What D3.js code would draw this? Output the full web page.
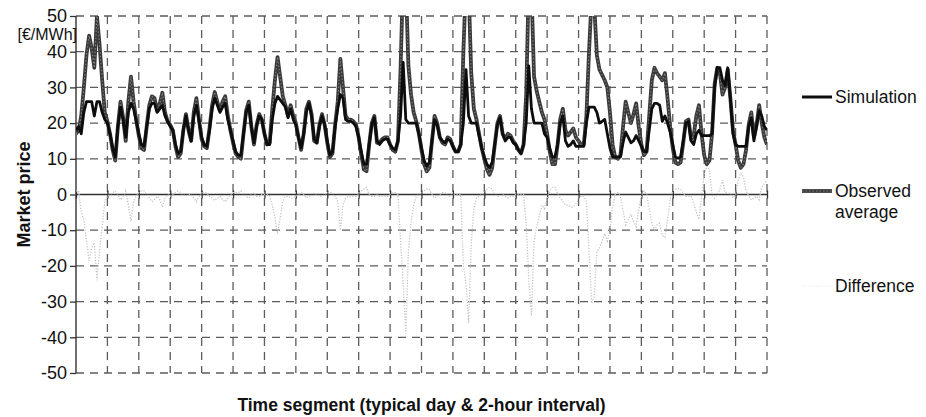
<!DOCTYPE html>
<html>
<head>
<meta charset="utf-8">
<script src="https://cdn.jsdelivr.net/npm/d3@7"></script>
<style>
  body { margin: 0; background: #fff; }
  svg text { font-family: "Liberation Sans", Arial, Helvetica, sans-serif; fill: #111; }
</style>
</head>
<body>
<svg id="chart" width="926" height="417"></svg>
<script>
// Market price per 2-hour interval (12 per typical day, 22 typical days), €/MWh
const simulation = [
  18, 19, 17, 23, 26, 26, 26, 22, 26, 26, 23, 21,
  20, 17, 13, 10.5, 19, 24.5, 21, 16, 23, 25.5, 24, 20.5,
  17, 14, 13.5, 19, 24, 25.5, 25.5, 23, 24, 25, 22, 20.5,
  19, 18, 14, 11.5, 12, 18, 22, 18, 15, 22, 25, 20.5,
  16, 14, 13.5, 18, 24, 27, 25, 23, 24.5, 25.5, 21, 18,
  15, 12, 11, 11, 17, 23, 25, 19, 14.5, 19, 22, 21,
  17, 14, 14, 21, 25.5, 27.5, 26.5, 25.5, 24.5, 21.5, 24, 21,
  19.5, 16, 13, 17, 23, 25.5, 22, 15.5, 14.5, 19, 22, 19.5,
  15, 11, 12, 19, 24, 28, 27, 21, 20.5, 20.5, 20, 19,
  16, 12, 8.5, 8.5, 14, 19.5, 21.5, 15, 14, 15, 15.5, 15.5,
  14, 13, 12.5, 15, 22, 37, 21, 20, 20, 20, 20, 17,
  13, 9.5, 8, 9, 15, 21, 19.5, 16, 15, 14.5, 15.5, 15,
  13.5, 12, 12, 14, 20, 35, 22, 20, 20, 20, 16.5, 13,
  10.5, 8.5, 7.5, 9, 14, 19.5, 21.5, 17, 15, 16, 16, 14.5,
  14, 12.5, 11.5, 14, 20, 36, 24, 20, 20, 20, 20, 17,
  16, 13, 10.5, 10.5, 14, 20, 22, 15, 13.5, 14, 15, 13.5,
  13.5, 13.5, 13.5, 20, 24.5, 24.5, 24.5, 23, 20, 20.5, 21, 17,
  13, 10.5, 10.5, 10.5, 10.5, 14.5, 17.5, 16, 14.5, 15, 16.5, 15,
  13.5, 12, 12, 18, 24, 25.5, 25.5, 25, 20.5, 22, 20, 17.5,
  14, 10.5, 10.2, 10.5, 15, 20, 20.5, 15, 14, 17, 18, 16.5,
  16.5, 16.5, 16.5, 17, 30, 35.5, 35.5, 32, 30.5, 35.5, 27, 17,
  14, 13.5, 13.5, 13.5, 13.5, 19, 21.5, 15, 19, 23.5, 22, 19,
  18
];

const observed = [
  17, 18, 22, 30, 39, 44.5, 41, 35.5, 50, 42, 32, 23,
  20.5, 17, 12.5, 9.5, 19, 26, 21.5, 15, 26, 33, 26, 21,
  16.5, 13, 12.5, 19, 25, 27.5, 27, 23.5, 25.5, 28.5, 23, 20.5,
  19.5, 18, 13.5, 10.5, 11.5, 18, 22.5, 18, 15, 23, 27, 21,
  15.5, 13.5, 13, 18.5, 25, 28.7, 26, 23.5, 26, 27.5, 22, 18,
  14.5, 11.5, 10.5, 10, 17, 23.5, 26, 19, 14, 19.5, 22.5, 21,
  17, 14, 14.5, 24, 32, 38.5, 33, 27.5, 25, 22, 25, 22,
  20, 16, 12.5, 17, 24, 26, 22.5, 15, 14.5, 19.5, 22.5, 19.5,
  14.5, 10.5, 11.5, 19.5, 26, 38, 30, 22, 21, 21, 20.5, 19.5,
  16, 11, 7, 6.5, 14, 20, 22, 14.5, 14.5, 15.5, 16, 16,
  14, 12.5, 12, 15, 35, 62, 60, 36, 28, 23, 20.5, 17,
  12.5, 8.5, 6.5, 7.5, 15, 22, 20, 16, 14.5, 14, 16, 15.5,
  13.5, 12, 12, 14, 40, 60, 58, 34, 24, 21, 17, 13,
  10, 7, 5.5, 7.5, 14, 20, 22, 17, 15.5, 17, 16.5, 15,
  14, 12.5, 11.5, 14, 28, 60, 58, 33, 29, 26, 23, 21,
  17, 12, 8.5, 8.5, 14, 21, 24, 18, 16.5, 17.5, 18.5, 16,
  15, 14, 14, 22, 40, 55, 53, 39, 35, 33.5, 32, 30,
  23, 14, 10.5, 10, 11, 19, 26, 23, 20, 22.5, 25.5, 19,
  14, 11, 12, 22, 32, 35.5, 34, 33, 32, 34, 27, 19,
  13, 9, 8.5, 9, 14.5, 20.5, 21, 15.5, 16.5, 22, 25, 17,
  11, 8.5, 9.5, 17, 31, 35.5, 34, 28, 30, 35, 27, 18,
  14, 9.5, 7.5, 8.5, 12.5, 19.5, 23, 16, 19.5, 25, 20, 16,
  14
];

// Difference between simulated and observed price
const difference = simulation.map((v, i) => v - observed[i]);

const yTicks = [50, 40, 30, 20, 10, 0, -10, -20, -30, -40, -50];
const intervalsPerDay = 12;
const dayCount = 22;
const legendLabels = [["Simulation"], ["Observed", "average"], ["Difference"]];

const svg = d3.select("#chart");
const margin = { left: 76, right: 159, top: 16, bottom: 44 };
const W = 926, H = 417;

const x = d3.scaleLinear()
  .domain([0, intervalsPerDay * dayCount])
  .range([margin.left, W - margin.right]);
const y = d3.scaleLinear()
  .domain([-50, 50])
  .range([H - margin.bottom, margin.top]);

const x0 = x.range()[0], x1 = x.range()[1];
const yTop = y(50), yBot = y(-50);

svg.append("defs").append("clipPath").attr("id", "plotClip")
  .append("rect")
  .attr("x", x0).attr("y", yTop)
  .attr("width", x1 - x0).attr("height", yBot - yTop);

// dashed grid
const gridColor = "#5c5c5c";
const gridDash = "8 6";
const dayTicks = d3.range(0, intervalsPerDay * dayCount + 1, intervalsPerDay);

svg.append("g").selectAll("line")
  .data(yTicks.filter(d => d !== 0))
  .join("line")
  .attr("x1", x0).attr("x2", x1)
  .attr("y1", d => y(d)).attr("y2", d => y(d))
  .attr("stroke", gridColor).attr("stroke-width", 1.3)
  .attr("stroke-dasharray", gridDash);

svg.append("g").selectAll("line")
  .data(dayTicks.slice(1))
  .join("line")
  .attr("x1", d => x(d)).attr("x2", d => x(d))
  .attr("y1", yTop).attr("y2", yBot)
  .attr("stroke", gridColor).attr("stroke-width", 1.3)
  .attr("stroke-dasharray", gridDash);

// zero axis with day ticks
svg.append("g")
  .attr("transform", `translate(0,${y(0)})`)
  .call(d3.axisBottom(x).tickValues(dayTicks).tickSize(4).tickFormat(""))
  .call(g => g.select(".domain").attr("stroke", "#333").attr("stroke-width", 1.4).attr("d", `M${x0},0H${x1}`))
  .call(g => g.selectAll(".tick line").attr("stroke", "#333").attr("stroke-width", 1.3).attr("y1", -4).attr("y2", 4));

// y axis
svg.append("g")
  .attr("transform", `translate(${x0},0)`)
  .call(d3.axisLeft(y).tickValues(yTicks).tickSize(6).tickPadding(3).tickFormat(d => String(d)))
  .call(g => g.select(".domain").attr("stroke", "#333").attr("stroke-width", 1.4).attr("d", `M0,${yTop}V${yBot}`))
  .call(g => g.selectAll(".tick line").attr("stroke", "#333").attr("stroke-width", 1.3))
  .call(g => g.selectAll(".tick text").attr("font-size", 18).attr("fill", "#111")
    .style("font-family", '"Liberation Sans", Arial, sans-serif'));

// unit label
svg.append("text")
  .attr("x", x0 + 1).attr("y", 40)
  .attr("text-anchor", "end")
  .attr("font-size", 16)
  .text("[€/MWh]");

// series
const line = d3.line().x((d, i) => x(i)).y(d => y(d));
const plot = svg.append("g").attr("clip-path", "url(#plotClip)");

plot.append("path")
  .datum(difference)
  .attr("fill", "none")
  .attr("stroke", "#c2c2c2")
  .attr("stroke-width", 1.3)
  .attr("stroke-dasharray", "1.2 1.6")
  .attr("d", line);

const obsG = plot.append("g");
obsG.append("path").attr("fill", "none").attr("stroke", "#3a3a3a")
  .attr("stroke-width", 3.8).attr("stroke-linejoin", "round");
obsG.append("path").attr("fill", "none").attr("stroke", "#808080")
  .attr("stroke-width", 1.1).attr("stroke-dasharray", "1.5 2").attr("stroke-linejoin", "round");
obsG.selectAll("path").datum(observed).attr("d", line);

plot.append("path")
  .datum(simulation)
  .attr("fill", "none")
  .attr("stroke", "#0d0d0d")
  .attr("stroke-width", 2.8)
  .attr("stroke-linejoin", "round")
  .attr("d", line);

// axis titles
svg.append("text")
  .attr("transform", `translate(30,${y(0)}) rotate(-90)`)
  .attr("text-anchor", "middle")
  .attr("font-size", 18).attr("font-weight", "bold")
  .text("Market price");

svg.append("text")
  .attr("x", (x0 + x1) / 2).attr("y", 411)
  .attr("text-anchor", "middle")
  .attr("font-size", 17.5).attr("font-weight", "bold")
  .text("Time segment (typical day & 2-hour interval)");

// legend
const legendY = [97, 191, 286];
const lg = svg.append("g");
legendLabels.forEach((lines, k) => {
  const yy = legendY[k];
  if (k === 0) {
    lg.append("line").attr("x1", 802).attr("x2", 832).attr("y1", yy).attr("y2", yy)
      .attr("stroke", "#0d0d0d").attr("stroke-width", 3);
  } else if (k === 1) {
    lg.append("line").attr("x1", 802).attr("x2", 832).attr("y1", yy).attr("y2", yy)
      .attr("stroke", "#3a3a3a").attr("stroke-width", 3.8);
    lg.append("line").attr("x1", 802).attr("x2", 832).attr("y1", yy).attr("y2", yy)
      .attr("stroke", "#808080").attr("stroke-width", 1.1).attr("stroke-dasharray", "1.5 2");
  } else {
    lg.append("line").attr("x1", 802).attr("x2", 832).attr("y1", yy).attr("y2", yy)
      .attr("stroke", "#f0f0f0").attr("stroke-width", 1.3).attr("stroke-dasharray", "1.2 1.6");
  }
  const t = lg.append("text").attr("x", 835).attr("y", yy + 6).attr("font-size", 17.5);
  lines.forEach((s, j) => t.append("tspan").attr("x", 835).attr("dy", j === 0 ? 0 : 21).text(s));
});
</script>
</body>
</html>
